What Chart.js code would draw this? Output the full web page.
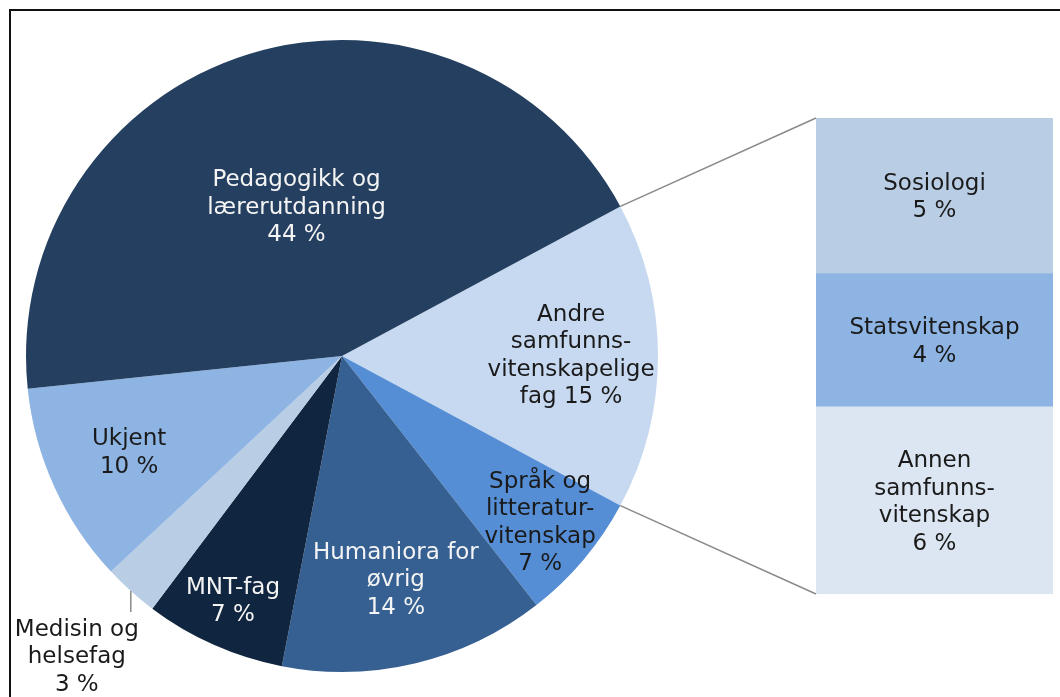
<!DOCTYPE html>
<html><head><meta charset="utf-8">
<script src="https://cdn.jsdelivr.net/npm/chart.js@4.4.0/dist/chart.umd.min.js"></script>
<style>
html,body{margin:0;padding:0;background:#fff;width:1060px;height:697px;overflow:hidden}
#wrap{position:relative;width:1060px;height:697px;overflow:hidden}
canvas{position:absolute;left:0;top:0}
#bar{pointer-events:none}
#frame{position:absolute;left:9px;top:9px;width:1070px;height:700px;border-left:2px solid #111;border-top:2px solid #111;pointer-events:none}
</style></head><body>
<div id="wrap">
<canvas id="pie" width="1060" height="697" style="width:1060px;height:697px"></canvas>
<canvas id="bar" width="1060" height="697" style="width:1060px;height:697px"></canvas>
<div id="frame"></div>
</div>
<script>
// ---- Pie data (clockwise from the split-out slice) ----
const pieCategories = ['Andre samfunnsvitenskapelige fag','Språk og litteraturvitenskap','Humaniora for øvrig','MNT-fag','Medisin og helsefag','Ukjent','Pedagogikk og lærerutdanning'];
const pieValues = [15.7, 6.6, 13.6, 7.2, 2.8, 10.3, 43.8];
const pieLabelPct = ['15 %','7 %','14 %','7 %','3 %','10 %','44 %'];
const pieLabelWraps = [['Andre','samfunns-','vitenskapelige','fag'],['Språk og','litteratur-','vitenskap'],['Humaniora for','øvrig'],['MNT-fag'],['Medisin og','helsefag'],['Ukjent'],['Pedagogikk og','lærerutdanning']];
const piePctInline = [true,false,false,false,false,false,false];
const pieColors = ['#C6D9F1','#558ED5','#376092','#10253F','#B9CDE5','#8EB4E3','#243F60'];
const pieTextColors = ['#1a1a1a','#1a1a1a','#f4f4f4','#f4f4f4','#1a1a1a','#1a1a1a','#f4f4f4'];
const pieLabelRadius = [0.725, 0.82, 0.73, 0.85, null, 0.74, 0.49];

// ---- Bar data (bottom to top) ----
const barCategories = ['Annen samfunnsvitenskap','Statsvitenskap','Sosiologi'];
const barValues = [5.9, 4.2, 4.9];
const barLabelPct = ['6 %','4 %','5 %'];
const barLabelWraps = [['Annen','samfunns-','vitenskap'],['Statsvitenskap'],['Sosiologi']];
const barColors = ['#DCE6F2','#8EB4E3','#B9CDE5'];

const FONT = '23px "DejaVu Sans"';
const LH = 27.5;

function labelLines(wrap, pct, inline){
  const l = wrap.slice();
  if (inline) l[l.length-1] = l[l.length-1] + ' ' + pct; else l.push(pct);
  return l;
}
function drawLines(ctx, lines, x, y, color){
  ctx.save();
  ctx.font = FONT; ctx.fillStyle = color; ctx.textAlign = 'center'; ctx.textBaseline = 'middle';
  const y0 = y - (lines.length-1)*LH/2;
  lines.forEach((t,i)=>ctx.fillText(t, x, y0 + i*LH));
  ctx.restore();
}

const pieTotal = pieValues.reduce((a,b)=>a+b,0);

const pieLabelPlugin = {
  id:'pieLabels',
  afterDatasetsDraw(chart){
    const ctx = chart.ctx;
    const arcs = chart.getDatasetMeta(0).data;
    arcs.forEach((arc,i)=>{
      const {x,y,startAngle,endAngle,outerRadius} = arc.getProps(['x','y','startAngle','endAngle','outerRadius'], true);
      const mid = (startAngle+endAngle)/2;
      const lines = labelLines(pieLabelWraps[i], pieLabelPct[i], piePctInline[i]);
      if (pieLabelRadius[i] === null){
        const ex = x + outerRadius*Math.cos(mid), ey = y + outerRadius*Math.sin(mid);
        ctx.save();
        ctx.strokeStyle = '#8a8a8a'; ctx.lineWidth = 1.5;
        ctx.beginPath(); ctx.moveTo(ex, ey); ctx.lineTo(ex, ey+21); ctx.stroke();
        ctx.restore();
        drawLines(ctx, lines, ex-54, ey+21+45, pieTextColors[i]);
      } else {
        const r = outerRadius*pieLabelRadius[i];
        drawLines(ctx, lines, x + r*Math.cos(mid), y + r*Math.sin(mid), pieTextColors[i]);
      }
    });
  }
};

const pieChart = new Chart(document.getElementById('pie'), {
  type:'pie',
  data:{ labels: pieCategories, datasets:[{ data: pieValues, backgroundColor: pieColors, borderWidth:0, hoverOffset:0 }]},
  options:{
    responsive:false, animation:false,
    rotation: 90 - (pieValues[0]/pieTotal)*180,
    layout:{ padding:{ left:26, top:40, right:402, bottom:25 } },
    plugins:{ legend:{display:false}, tooltip:{enabled:false} },
    events:[]
  },
  plugins:[pieLabelPlugin]
});

const barPlugin = {
  id:'barLabelsAndConnectors',
  afterDatasetsDraw(chart){
    const ctx = chart.ctx;
    // labels
    barValues.forEach((v,i)=>{
      const el = chart.getDatasetMeta(i).data[0];
      const {x,y,base} = el.getProps(['x','y','base'], true);
      drawLines(ctx, labelLines(barLabelWraps[i], barLabelPct[i], false), x, (y+base)/2 + 2, '#1a1a1a');
    });
    // connectors
    const arc = pieChart.getDatasetMeta(0).data[0];
    const a = arc.getProps(['x','y','startAngle','endAngle','outerRadius'], true);
    const topEl = chart.getDatasetMeta(barValues.length-1).data[0].getProps(['x','y','width'], true);
    const botEl = chart.getDatasetMeta(0).data[0].getProps(['x','base','width'], true);
    const p1 = [a.x + a.outerRadius*Math.cos(a.startAngle), a.y + a.outerRadius*Math.sin(a.startAngle)];
    const p2 = [a.x + a.outerRadius*Math.cos(a.endAngle), a.y + a.outerRadius*Math.sin(a.endAngle)];
    ctx.save();
    ctx.strokeStyle = '#8a8a8a'; ctx.lineWidth = 1.5;
    ctx.beginPath();
    ctx.moveTo(p1[0], p1[1]); ctx.lineTo(topEl.x - topEl.width/2, topEl.y);
    ctx.moveTo(p2[0], p2[1]); ctx.lineTo(botEl.x - botEl.width/2, botEl.base);
    ctx.stroke();
    ctx.restore();
  }
};

const barTotal = barValues.reduce((a,b)=>a+b,0);
new Chart(document.getElementById('bar'), {
  type:'bar',
  data:{ labels:['Andre samfunnsvitenskapelige fag'], datasets: barValues.map((v,i)=>({
    label: barCategories[i], data:[v], backgroundColor: barColors[i], borderWidth:0,
    barPercentage:1, categoryPercentage:1, stack:'s'
  }))},
  options:{
    responsive:false, animation:false,
    layout:{ padding:{ left:816, right:7, top:118, bottom:103 } },
    scales:{ x:{display:false, stacked:true}, y:{display:false, stacked:true, min:0, max:barTotal} },
    plugins:{ legend:{display:false}, tooltip:{enabled:false} },
    events:[]
  },
  plugins:[barPlugin]
});
</script>
</body></html>
